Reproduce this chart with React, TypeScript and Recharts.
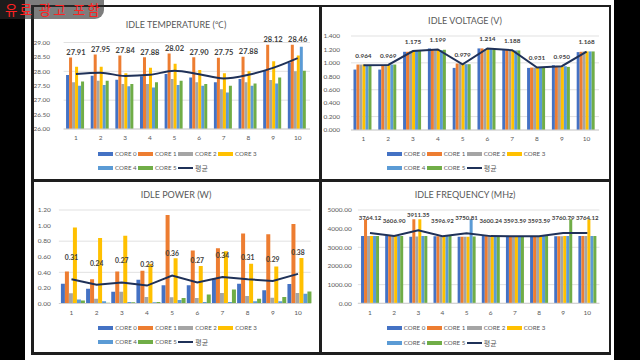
import React from 'react';
import { ComposedChart, Bar, Line, XAxis, YAxis, CartesianGrid, LabelList } from 'recharts';

const FONT = 'Lato, "Noto Sans", sans-serif';
const KFONT = '"Noto Sans CJK KR", "Noto Sans", sans-serif';

const categories = ['1', '2', '3', '4', '5', '6', '7', '8', '9', '10'];
const coreNames = ['CORE 0', 'CORE 1', 'CORE 2', 'CORE 3', 'CORE 4', 'CORE 5'];
const coreColors = ['#4472C4', '#ED7D31', '#A5A5A5', '#FFC000', '#5B9BD5', '#70AD47'];
const avgName = '평균';
const avgColor = '#1F3158';

// IDLE TEMPERATURE (℃)
const tempCores = [
  [27.87, 27.85, 27.71, 27.83, 27.91, 27.79, 27.62, 27.73, 28.05, 28.31],
  [28.48, 28.58, 28.55, 28.49, 28.62, 28.49, 28.47, 28.51, 28.92, 28.92],
  [27.62, 27.67, 27.56, 27.56, 27.73, 27.62, 27.38, 27.62, 27.7, 28.0],
  [28.16, 28.16, 27.93, 28.12, 28.26, 28.05, 27.93, 28.0, 28.35, 28.55],
  [27.5, 27.53, 27.48, 27.44, 27.53, 27.5, 27.27, 27.5, 27.58, 28.85],
  [27.65, 27.67, 27.56, 27.62, 27.67, 27.56, 27.5, 27.58, 27.79, 28.02],
];
const tempAvg = [27.91, 27.95, 27.84, 27.88, 28.02, 27.9, 27.75, 27.88, 28.12, 28.46];
const tempTicks = [26, 26.5, 27, 27.5, 28, 28.5, 29];

// IDLE VOLTAGE (V)
const voltCores = [
  [0.9, 0.9, 1.165, 1.215, 0.925, 1.215, 1.19, 0.925, 0.965, 1.16],
  [0.975, 0.965, 1.165, 1.205, 0.99, 1.215, 1.19, 0.93, 0.94, 1.165],
  [0.975, 0.975, 1.175, 1.19, 0.99, 1.205, 1.19, 0.93, 0.94, 1.17],
  [0.975, 0.975, 1.18, 1.19, 0.99, 1.215, 1.185, 0.935, 0.945, 1.17],
  [0.965, 0.975, 1.18, 1.19, 0.98, 1.21, 1.185, 0.935, 0.95, 1.17],
  [0.965, 0.975, 1.18, 1.195, 0.98, 1.21, 1.185, 0.935, 0.94, 1.17],
];
const voltAvg = [0.964, 0.969, 1.175, 1.199, 0.979, 1.214, 1.188, 0.931, 0.95, 1.168];
const voltTicks = [0, 0.2, 0.4, 0.6, 0.8, 1.0, 1.2, 1.4];

// IDLE POWER (W)
const powerCores = [
  [0.255, 0.19, 0.15, 0.305, 0.235, 0.235, 0.32, 0.255, 0.17, 0.25],
  [0.41, 0.31, 0.41, 0.42, 1.135, 0.68, 0.71, 0.9, 0.89, 1.02],
  [0.13, 0.06, 0.15, 0.085, 0.08, 0.07, 0.135, 0.095, 0.075, 0.135],
  [0.975, 0.84, 0.87, 0.51, 0.58, 0.48, 0.67, 0.51, 0.475, 0.585],
  [0.05, 0.03, 0.02, 0.015, 0.045, 0.02, 0.02, 0.03, 0.03, 0.125],
  [0.04, 0.01, 0.015, 0.02, 0.07, 0.115, 0.18, 0.06, 0.085, 0.155],
];
const powerAvg = [0.31, 0.24, 0.27, 0.23, 0.36, 0.27, 0.34, 0.31, 0.29, 0.38];
const powerTicks = [0, 0.2, 0.4, 0.6, 0.8, 1.0, 1.2];

// IDLE FREQUENCY (MHz)
const freqCores = [
  [3600, 3610, 3570, 3590, 3570, 3600, 3590, 3590, 3590, 3600],
  [4500, 3600, 4500, 3590, 3570, 3600, 3590, 3590, 3590, 3600],
  [3600, 3600, 3580, 3590, 3570, 3600, 3590, 3590, 3590, 3600],
  [3600, 3600, 4500, 3590, 3570, 3600, 3590, 3590, 3600, 4500],
  [3610, 3610, 3600, 3600, 4500, 3600, 3600, 3600, 3600, 3600],
  [3610, 3610, 3600, 3600, 3580, 3600, 3600, 3600, 4500, 3600],
];
const freqAvg = [3764.12, 3606.9, 3911.35, 3596.92, 3750.81, 3600.24, 3593.59, 3593.59, 3760.79, 3764.12];
const freqTicks = [0, 1000, 2000, 3000, 4000, 5000];

const buildRows = (cores: number[][], avg: number[]) =>
  categories.map((cat, i) => {
    const row: any = { cat, avg: avg[i], peak: Math.max(...cores.map((c) => c[i])) };
    cores.forEach((c, k) => {
      row['c' + k] = c[i];
    });
    return row;
  });

type Cfg = {
  title: string;
  titleY: number;
  left: number;
  top: number;
  width: number;
  height: number;
  margin: { top: number; right: number; bottom: number; left: number };
  yWidth: number;
  yTickMargin: number;
  xTickMargin: number;
  domain: [number, number];
  ticks: number[];
  tickDigits: number;
  labelDigits: number;
  labelSize: number;
  cores: number[][];
  avg: number[];
  gap: string;
  lineType: 'linear' | 'monotone';
  labelOnPeak: boolean;
  labelLift: number;
  legendLeft: number;
  legendTop: number;
  legendRow: number;
};

const makeLabel = (digits: number, lift: number, size: number) => (props: any) => {
  const { x, y, value } = props;
  if (x == null || y == null || typeof value !== 'number') return null;
  return (
    <text
      x={x}
      y={y - lift}
      textAnchor="middle"
      fontSize={size}
      fontWeight="bold"
      fill="#404040"
      fontFamily={FONT}
    >
      {value.toFixed(digits)}
    </text>
  );
};

function LegendBlock({ left, top, row }: { left: number; top: number; row: number }) {
  const items = coreNames.map((n, i) => ({ name: n, color: coreColors[i], line: false }));
  items.push({ name: avgName, color: avgColor, line: true });
  return (
    <div
      style={{
        position: 'absolute',
        left,
        top,
        width: 164,
        display: 'flex',
        flexWrap: 'wrap',
      }}
    >
      {items.map((it) => (
        <div
          key={it.name}
          style={{ width: 40, height: row, display: 'flex', alignItems: 'center' }}
        >
          <div
            style={{
              width: 15,
              height: it.line ? 2 : 4,
              background: it.color,
              marginRight: 2,
              flexShrink: 0,
            }}
          />
          <span
            style={{
              fontSize: it.line ? 7 : 6.2,
              color: '#595959',
              fontFamily: it.line ? KFONT : FONT,
              whiteSpace: 'nowrap',
              lineHeight: '8px',
            }}
          >
            {it.name}
          </span>
        </div>
      ))}
    </div>
  );
}

function Panel({ cfg }: { cfg: Cfg }) {
  const data = buildRows(cfg.cores, cfg.avg);
  const tickStyle = { fontSize: 6.5, fill: '#595959', fontFamily: FONT };
  const label = makeLabel(cfg.labelDigits, cfg.labelLift, cfg.labelSize);
  return (
    <>
      <div
        style={{
          position: 'absolute',
          left: cfg.left,
          top: cfg.titleY - 6,
          width: cfg.width,
          textAlign: 'center',
          fontFamily: FONT,
          fontSize: 9,
          lineHeight: '12px',
          color: '#595959',
          whiteSpace: 'nowrap',
        }}
      >
        {cfg.title}
      </div>
      <div style={{ position: 'absolute', left: cfg.left, top: cfg.top }}>
        <ComposedChart
          width={cfg.width}
          height={cfg.height}
          data={data}
          margin={cfg.margin}
          barCategoryGap={cfg.gap}
          barGap={0}
        >
          <CartesianGrid vertical={false} stroke="#d9d9d9" strokeWidth={0.8} />
          <XAxis
            dataKey="cat"
            interval={0}
            tickLine={false}
            tickSize={0}
            tickMargin={cfg.xTickMargin}
            axisLine={{ stroke: '#d0d0d0' }}
            tick={tickStyle}
          />
          <YAxis
            width={cfg.yWidth}
            domain={cfg.domain}
            ticks={cfg.ticks}
            allowDataOverflow
            tickFormatter={(v: number) => v.toFixed(cfg.tickDigits)}
            axisLine={false}
            tickLine={false}
            tickSize={0}
            tickMargin={cfg.yTickMargin}
            tick={tickStyle}
          />
          {coreNames.map((n, i) => (
            <Bar
              key={n}
              dataKey={'c' + i}
              name={n}
              fill={coreColors[i]}
              isAnimationActive={false}
            />
          ))}
          <Line
            dataKey="avg"
            name={avgName}
            type={cfg.lineType}
            stroke={avgColor}
            strokeWidth={2}
            dot={false}
            activeDot={false}
            isAnimationActive={false}
          >
            {!cfg.labelOnPeak && <LabelList dataKey="avg" content={label} />}
          </Line>
          {cfg.labelOnPeak && (
            <Line
              dataKey="peak"
              stroke="none"
              dot={false}
              activeDot={false}
              legendType="none"
              isAnimationActive={false}
            >
              <LabelList dataKey="avg" content={label} />
            </Line>
          )}
        </ComposedChart>
      </div>
      <LegendBlock left={cfg.legendLeft} top={cfg.legendTop} row={cfg.legendRow} />
    </>
  );
}

const panels: Cfg[] = [
  {
    title: 'IDLE TEMPERATURE (℃)',
    titleY: 25,
    left: 32,
    top: 6,
    width: 288,
    height: 174,
    margin: { top: 36.5, right: 10, bottom: 21, left: 0 },
    yWidth: 31.6,
    yTickMargin: 13.6,
    xTickMargin: 6.7,
    domain: [26, 29],
    ticks: tempTicks,
    tickDigits: 2,
    labelDigits: 2,
    labelSize: 7.5,
    cores: tempCores,
    avg: tempAvg,
    gap: '10%',
    lineType: 'monotone',
    labelOnPeak: true,
    labelLift: 2.5,
    legendLeft: 98,
    legendTop: 147,
    legendRow: 14,
  },
  {
    title: 'IDLE VOLTAGE (V)',
    titleY: 20.7,
    left: 320,
    top: 6,
    width: 290,
    height: 174,
    margin: { top: 30, right: 11, bottom: 20, left: 0 },
    yWidth: 31,
    yTickMargin: 11,
    xTickMargin: 6,
    domain: [0, 1.4],
    ticks: voltTicks,
    tickDigits: 3,
    labelDigits: 3,
    labelSize: 6.4,
    cores: voltCores,
    avg: voltAvg,
    gap: '10%',
    lineType: 'linear',
    labelOnPeak: false,
    labelLift: 7.4,
    legendLeft: 386.7,
    legendTop: 147,
    legendRow: 14,
  },
  {
    title: 'IDLE POWER (W)',
    titleY: 195,
    left: 32,
    top: 181,
    width: 288,
    height: 172,
    margin: { top: 29, right: 9.4, bottom: 19.5, left: 0 },
    yWidth: 26.9,
    yTickMargin: 8.2,
    xTickMargin: 6.9,
    domain: [0, 1.2],
    ticks: powerTicks,
    tickDigits: 2,
    labelDigits: 2,
    labelSize: 6.8,
    cores: powerCores,
    avg: powerAvg,
    gap: '8%',
    lineType: 'linear',
    labelOnPeak: false,
    labelLift: 19,
    legendLeft: 98.3,
    legendTop: 320.5,
    legendRow: 14.6,
  },
  {
    title: 'IDLE FREQUENCY (MHz)',
    titleY: 195,
    left: 320,
    top: 181,
    width: 290,
    height: 172,
    margin: { top: 29, right: 10.6, bottom: 19.7, left: 0 },
    yWidth: 37.9,
    yTickMargin: 6.2,
    xTickMargin: 7.1,
    domain: [0, 5000],
    ticks: freqTicks,
    tickDigits: 2,
    labelDigits: 2,
    labelSize: 6.1,
    cores: freqCores,
    avg: freqAvg,
    gap: '13%',
    lineType: 'linear',
    labelOnPeak: false,
    labelLift: 13.4,
    legendLeft: 386.7,
    legendTop: 321,
    legendRow: 14.4,
  },
];

const frameLine = (style: React.CSSProperties) => (
  <div style={{ position: 'absolute', background: '#1e1e1e', ...style }} />
);

export default function App() {
  return (
    <div
      style={{
        position: 'fixed',
        left: 0,
        top: 0,
        width: 640,
        height: 360,
        background: '#000',
        overflow: 'hidden',
      }}
    >
      <div style={{ position: 'absolute', left: 25, top: 0, width: 589, height: 360, background: '#fff' }} />
      {panels.map((p) => (
        <Panel key={p.title} cfg={p} />
      ))}
      {frameLine({ left: 31, top: 5, width: 2.5, height: 349 })}
      {frameLine({ left: 319, top: 5, width: 2.5, height: 349 })}
      {frameLine({ left: 608.5, top: 5, width: 2.5, height: 349 })}
      {frameLine({ left: 31, top: 5, width: 580, height: 2 })}
      {frameLine({ left: 31, top: 179, width: 580, height: 2.5 })}
      {frameLine({ left: 31, top: 352, width: 580, height: 2.5 })}
      <div
        style={{
          position: 'absolute',
          left: 0,
          top: 0,
          width: 104,
          height: 19,
          background: 'rgba(45,45,45,0.62)',
          borderRadius: '0 0 9px 0',
        }}
      />
      <div
        style={{
          position: 'absolute',
          left: 5,
          top: 1,
          fontFamily: KFONT,
          fontSize: 13.5,
          letterSpacing: 2,
          color: '#ff2222',
          whiteSpace: 'nowrap',
          lineHeight: '17px',
        }}
      >
        유료 광고 포함
      </div>
    </div>
  );
}
